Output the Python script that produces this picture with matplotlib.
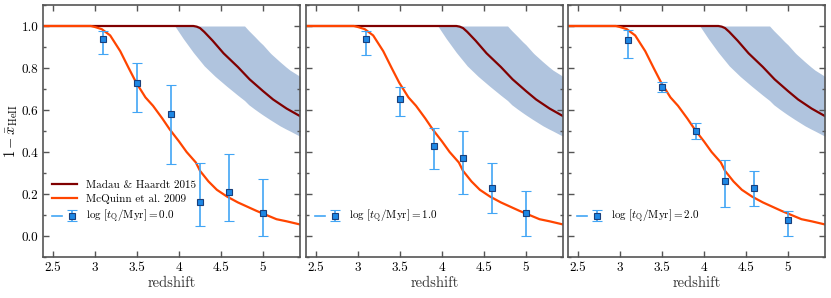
import numpy as np
import matplotlib
matplotlib.use("Agg")
import matplotlib.pyplot as plt
from matplotlib.lines import Line2D
from matplotlib.legend_handler import HandlerTuple

plt.rcParams.update({
    "font.family": "serif",
    "font.serif": ["cmr10", "DejaVu Serif"],
    "mathtext.fontset": "cm",
    "axes.formatter.use_mathtext": True,
    "axes.unicode_minus": True,
})

# Madau & Haardt 2015
mh_z = [2.38, 3.0, 4.17, 4.21, 4.25, 4.3, 4.4, 4.53, 4.7, 4.84, 5.0, 5.12, 5.28, 5.44]
mh_y = [1.0, 1.0, 1.0, 0.997, 0.99, 0.972, 0.93, 0.87, 0.805, 0.746, 0.69, 0.65, 0.607, 0.571]

# McQuinn et al. 2009
mq_z = [2.38, 2.95, 3.0, 3.08, 3.18, 3.3, 3.4, 3.49, 3.6, 3.69, 3.8, 3.89, 4.0, 4.09,
        4.2, 4.25, 4.35, 4.45, 4.57, 4.7, 4.81, 4.92, 5.04, 5.16, 5.28, 5.44]
mq_y = [1.0, 1.0, 0.995, 0.985, 0.955, 0.88, 0.80, 0.73, 0.66, 0.62, 0.56, 0.507, 0.45, 0.40,
        0.35, 0.31, 0.26, 0.22, 0.188, 0.16, 0.14, 0.12, 0.10, 0.08, 0.07, 0.055]

# Shaded band
band_z = [3.95, 4.05, 4.17, 4.3, 4.43, 4.565, 4.7, 4.78, 4.83, 4.9, 4.96, 5.0, 5.08, 5.1,
          5.2, 5.27, 5.32, 5.44]
band_lo = [1.0, 0.94, 0.874, 0.81, 0.76, 0.714, 0.67, 0.645, 0.625, 0.604, 0.587, 0.576,
           0.555, 0.55, 0.525, 0.51, 0.50, 0.475]
band_hi = [1.0, 1.0, 1.0, 1.0, 1.0, 1.0, 1.0, 1.0, 0.978, 0.95, 0.925, 0.91, 0.874, 0.866,
           0.83, 0.806, 0.79, 0.76]

# Data points
pts_z = [3.1, 3.5, 3.9, 4.25, 4.6, 5.0]
labels = [r"$\log\,[t_{\rm Q}/{\rm Myr}] = 0.0$",
          r"$\log\,[t_{\rm Q}/{\rm Myr}] = 1.0$",
          r"$\log\,[t_{\rm Q}/{\rm Myr}] = 2.0$"]
vals = [
    [0.936, 0.729, 0.58, 0.16, 0.209, 0.11],
    [0.936, 0.652, 0.429, 0.37, 0.23, 0.11],
    [0.931, 0.711, 0.50, 0.26, 0.23, 0.078],
]
err_hi = [
    [0.976, 0.823, 0.721, 0.35, 0.389, 0.273],
    [0.978, 0.711, 0.512, 0.50, 0.35, 0.212],
    [0.98, 0.735, 0.54, 0.36, 0.308, 0.12],
]
err_lo = [
    [0.868, 0.589, 0.341, 0.05, 0.07, 0.0],
    [0.86, 0.571, 0.32, 0.20, 0.11, 0.0],
    [0.848, 0.684, 0.46, 0.139, 0.142, 0.0],
]

xticks = [2.5, 3, 3.5, 4, 4.5, 5]
xticklabels = ["2.5", "3", "3.5", "4", "4.5", "5"]

fig = plt.figure(figsize=(8.31, 2.98), dpi=100)
lefts = [43 / 831, 306 / 831, 568 / 831]
w = 257 / 831
bottom = 1 - 257 / 298
h = (257 - 5) / 298

spine_col = "#555555"
ecol = "#42a5f5"
for i in range(3):
    ax = fig.add_axes([lefts[i], bottom, w, h])
    ax.fill_between(band_z, band_lo, band_hi, color="#b0c4de", lw=0, zorder=1)
    ax.plot(mh_z, mh_y, color="#800000", lw=1.6, label="Madau & Haardt 2015", zorder=2)
    ax.plot(mq_z, mq_y, color="#ff4500", lw=1.6, label="McQuinn et al. 2009", zorder=2)
    v = np.array(vals[i])
    yerr = [v - np.array(err_lo[i]), np.array(err_hi[i]) - v]
    eb = ax.errorbar(pts_z, v, yerr=yerr, fmt="s", ms=4.5, mfc="#1e88e5", mec="#1a3f7a",
                     mew=0.8, ecolor=ecol, elinewidth=1.2, capsize=3.5, capthick=1.2,
                     zorder=3)
    proxy = Line2D([], [], color=ecol, lw=1.2)
    ax.set_xlim(2.38, 5.44)
    ax.set_ylim(-0.1, 1.1)
    ax.set_xticks(xticks)
    ax.set_xticklabels(xticklabels, fontsize=9.5)
    ax.set_yticks([0.0, 0.2, 0.4, 0.6, 0.8, 1.0])
    ax.set_yticks(np.arange(-0.1, 1.11, 0.1), minor=True)
    ax.tick_params(which="both", direction="in", top=True, right=True, color=spine_col,
                   labelsize=9.5)
    ax.tick_params(which="major", length=4, width=1)
    ax.tick_params(which="minor", length=2.5, width=1)
    ax.tick_params(axis="x", which="minor", top=False, bottom=False)
    for s in ax.spines.values():
        s.set_color(spine_col)
        s.set_linewidth(1.2)
    ax.set_xlabel("redshift", fontsize=10.5, color="#333333", labelpad=2)
    h_lines, l_lines = ax.get_legend_handles_labels()
    hmap = {tuple: HandlerTuple(ndivide=None)}
    if i == 0:
        ax.set_yticklabels(["0.0", "0.2", "0.4", "0.6", "0.8", "1.0"])
        ax.set_ylabel(r"$1-\bar{x}_{\rm HeII}$", fontsize=10.5, labelpad=1)
        ax.legend(h_lines + [(proxy, eb)], l_lines + [labels[i]], handler_map=hmap,
                  loc="lower left", frameon=False, fontsize=8, handlelength=2.3,
                  borderaxespad=0.4, bbox_to_anchor=(0.0, 0.09), labelspacing=0.35)
    else:
        ax.set_yticklabels([])
        ax.legend([(proxy, eb)], [labels[i]], handler_map=hmap, loc="lower left",
                  frameon=False, fontsize=8, handlelength=2.3, borderaxespad=0.4,
                  bbox_to_anchor=(0.0, 0.09))

fig.savefig("out.png", dpi=100)
